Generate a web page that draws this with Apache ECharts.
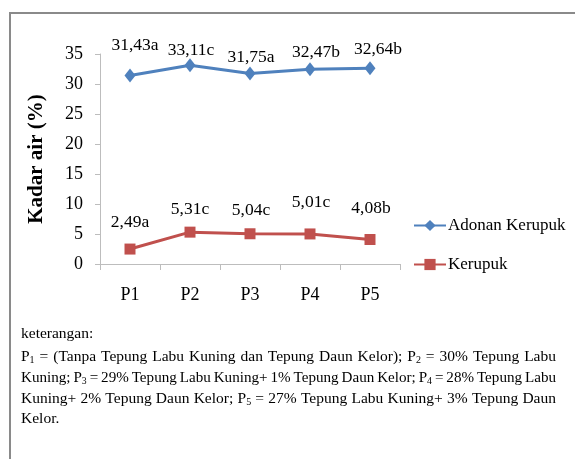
<!DOCTYPE html>
<html>
<head>
<meta charset="utf-8">
<script src="https://cdn.jsdelivr.net/npm/echarts@6/dist/echarts.min.js"></script>
<style>
html,body{margin:0;padding:0;background:#fff;}
#chart{width:575px;height:459px;}
</style>
</head>
<body>
<div id="chart"></div>
<script>
// ---- data ----
const categories = ['P1', 'P2', 'P3', 'P4', 'P5'];
const adonanValues = [31.43, 33.11, 31.75, 32.47, 32.64];
const adonanLetters = ['a', 'c', 'a', 'b', 'b'];
const kerupukValues = [2.49, 5.31, 5.04, 5.01, 4.08];
const kerupukLetters = ['a', 'c', 'c', 'c', 'b'];
const seriesNames = ['Adonan Kerupuk', 'Kerupuk'];
const yMin = 0, yMax = 35, yStep = 5;
const noteTitle = 'keterangan:';
const noteLines = [
  'P{1} = (Tanpa Tepung Labu Kuning dan Tepung Daun Kelor); P{2} = 30% Tepung Labu',
  'Kuning; P{3} = 29% Tepung Labu Kuning+ 1% Tepung Daun Kelor; P{4} = 28% Tepung Labu',
  'Kuning+ 2% Tepung Daun Kelor; P{5} = 27% Tepung Labu Kuning+ 3% Tepung Daun',
  'Kelor.'
];

// ---- label placement tweaks (styling only) ----
const adonanLabelShift = [[5, -30], [1, -15], [1, -16], [6, -17], [8, -19]];
const kerupukLabelShift = [[0, -27], [0, -23], [1, -23], [1, -32], [1, -31]];

const FONT = '"Liberation Serif", "Times New Roman", serif';

function fmt(v, letter) {
  return v.toFixed(2).replace('.', ',') + letter;
}

function buildData(values, letters, shifts) {
  return values.map((v, i) => ({
    value: v,
    label: { formatter: fmt(v, letters[i]), offset: shifts[i] }
  }));
}

// ---- justified note text ----
const NOTE_SIZE = 15.5, SUB_SIZE = 10;
const canvas = document.createElement('canvas');
const ctx = canvas.getContext('2d');
function measure(txt, size) {
  ctx.font = size + 'px ' + FONT;
  return ctx.measureText(txt).width;
}
function wordInfo(w) {
  const parts = w.split(/(\{\d\})/).filter(s => s.length);
  let txt = '', width = 0;
  parts.forEach(p => {
    const m = p.match(/^\{(\d)\}$/);
    if (m) { txt += '{s|' + m[1] + '}'; width += measure(m[1], SUB_SIZE); }
    else { txt += '{n|' + p.replace(/[{}|]/g, '') + '}'; width += measure(p, NOTE_SIZE); }
  });
  return { txt, width };
}
const richStyle = {
  n: { fontSize: NOTE_SIZE, fontFamily: FONT, color: '#000', lineHeight: 16 },
  s: { fontSize: SUB_SIZE, fontFamily: FONT, color: '#000', lineHeight: 10, verticalAlign: 'bottom' }
};
const noteLeft = 21, noteRight = 556;
const noteYs = [357, 378, 399, 419];
const graphics = [];
graphics.push({
  type: 'polyline', silent: true,
  shape: { points: [[10, 470], [10, 13], [580, 13]] },
  style: { stroke: '#8a8a8a', lineWidth: 2, fill: null }
});
graphics.push({
  type: 'text', x: noteLeft, y: 334,
  style: { text: noteTitle, font: NOTE_SIZE + 'px ' + FONT, fill: '#000', verticalAlign: 'middle', align: 'left' }
});
noteLines.forEach((line, li) => {
  const words = line.split(' ').map(wordInfo);
  const total = words.reduce((a, w) => a + w.width, 0);
  const justify = li < noteLines.length - 1;
  const avail = noteRight - noteLeft;
  let gap = measure(' ', NOTE_SIZE), scale = 1;
  if (justify && words.length > 1) {
    gap = (avail - total) / (words.length - 1);
    if (gap < 3) {
      gap = 3;
      scale = avail / (total + 3 * (words.length - 1));
    }
  }
  let x = noteLeft;
  words.forEach(w => {
    graphics.push({
      type: 'text', x: x, y: noteYs[li], scaleX: scale,
      style: { text: w.txt, rich: richStyle, verticalAlign: 'middle', align: 'left' }
    });
    x += (w.width + gap) * scale;
  });
});

const chart = echarts.init(document.getElementById('chart'), null, { renderer: 'canvas' });
chart.setOption({
  backgroundColor: '#fff',
  animation: false,
  textStyle: { fontFamily: FONT },
  grid: { left: 100, right: 175, top: 54, bottom: 195, containLabel: false },
  legend: {
    orient: 'vertical', left: 408, top: 212,
    itemWidth: 32, itemHeight: 14, itemGap: 22,
    textStyle: { fontFamily: FONT, fontSize: 17, color: '#000', padding: [0, 0, 0, -3] },
    data: seriesNames
  },
  xAxis: {
    type: 'category', data: categories, boundaryGap: true,
    axisLine: { lineStyle: { color: '#bdbdbd', width: 1 } },
    axisTick: { show: true, length: 6, lineStyle: { color: '#bdbdbd' } },
    axisLabel: { margin: 22, fontSize: 18, fontFamily: FONT, color: '#000' }
  },
  yAxis: {
    type: 'value', min: yMin, max: yMax, interval: yStep,
    name: 'Kadar air (%)', nameLocation: 'middle', nameGap: 53,
    nameTextStyle: { fontFamily: FONT, fontSize: 21, fontWeight: 'bold', color: '#000' },
    splitLine: { show: false },
    axisLine: { show: true, lineStyle: { color: '#bdbdbd', width: 1 } },
    axisTick: { show: true, length: 5, lineStyle: { color: '#bdbdbd' } },
    axisLabel: { margin: 17, fontSize: 18, fontFamily: FONT, color: '#000' }
  },
  series: [
    {
      name: seriesNames[0], type: 'line',
      data: buildData(adonanValues, adonanLetters, adonanLabelShift),
      symbol: 'diamond', symbolSize: [11, 14],
      itemStyle: { color: '#4f81bd' },
      lineStyle: { color: '#4f81bd', width: 3 },
      label: { show: true, position: 'inside', fontFamily: FONT, fontSize: 17.5, color: '#000' }
    },
    {
      name: seriesNames[1], type: 'line',
      data: buildData(kerupukValues, kerupukLetters, kerupukLabelShift),
      symbol: 'rect', symbolSize: 11,
      itemStyle: { color: '#c0504d' },
      lineStyle: { color: '#c0504d', width: 3 },
      label: { show: true, position: 'inside', fontFamily: FONT, fontSize: 17.5, color: '#000' }
    }
  ],
  graphic: graphics
});
</script>
</body>
</html>
